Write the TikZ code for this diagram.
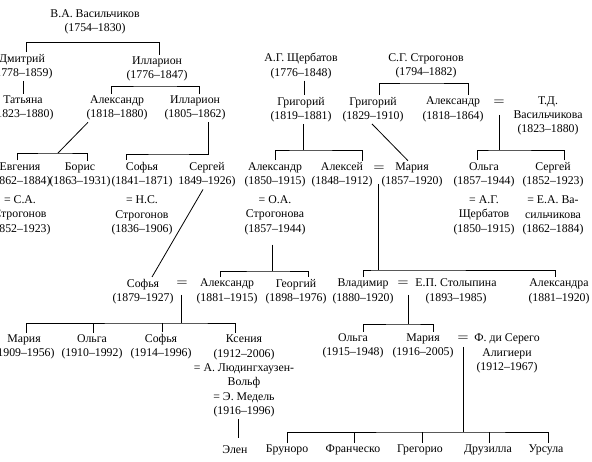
\documentclass[tikz,border=0pt]{standalone}
\usepackage{fontspec}
\setmainfont{Liberation Serif}
\begin{document}
\begin{tikzpicture}[x=1pt,y=-1pt,
  p/.style={align=center, inner sep=0pt, outer xsep=0pt, outer ysep=2pt,
    font=\fontsize{11.8}{14.3}\selectfont},
  eqs/.style={inner sep=0pt, font=\fontsize{11.8}{14.3}\selectfont},
  con/.style={line width=0.8pt}]
\useasboundingbox (0,0) rectangle (592,462);
% --- generation 1-2
\node[p] (vas) at (95,22) {В.А. Васильчиков\\(1754–1830)};
\node[p] (dmi) at (22,66.5) {Дмитрий\\(1778–1859)};
\node[p] (ill1) at (157,69) {Илларион\\(1776–1847)};
\node[p] (tat) at (23,108) {Татьяна\\(1823–1880)};
\node[p] (ale1) at (117,108) {Александр\\(1818–1880)};
\node[p] (ill2) at (195,108) {Илларион\\(1805–1862)};
\node[p] (shch) at (301,66) {А.Г. Щербатов\\(1776–1848)};
\node[p] (gri1) at (301,109.5) {Григорий\\(1819–1881)};
\node[p] (str) at (426,66) {С.Г. Строгонов\\(1794–1882)};
\node[p] (gri2) at (373,109.5) {Григорий\\(1829–1910)};
\node[p] (ale2) at (453,109.5) {Александр\\(1818–1864)};
\node[eqs] (eq1) at (499,103) {\scalebox{1.7}[1]{=}};
\node[p] (tdv) at (548,116) {Т.Д.\\Васильчикова\\(1823–1880)};
% --- generation 3
\node[p] (evg) at (20,198.5) {Евгения\\(1862–1884)\\[5pt]= С.А.\\Строгонов\\(1852–1923)};
\node[p] (bor) at (80,175) {Борис\\(1863–1931)};
\node[p] (sof1) at (142,198.5) {Софья\\(1841–1871)\\[5pt]= Н.С.\\Строгонов\\(1836–1906)};
\node[p] (ser1) at (207,175) {Сергей\\1849–1926)};
\node[p] (ale3) at (275,198.5) {Александр\\(1850–1915)\\[5pt]= О.А.\\Строгонова\\(1857–1944)};
\node[p] (alx) at (342,175) {Алексей\\(1848–1912)};
\node[eqs] (eq2) at (379,169) {\scalebox{1.7}[1]{=}};
\node[p] (mar1) at (412,175) {Мария\\(1857–1920)};
\node[p] (olg1) at (484,198.5) {Ольга\\(1857–1944)\\[5pt]= А.Г.\\Щербатов\\(1850–1915)};
\node[p] (ser2) at (553,198.5) {Сергей\\(1852–1923)\\[5pt]= Е.А. Ва-\\сильчикова\\(1862–1884)};
% --- generation 4
\node[p] (sof2) at (143,291.5) {Софья\\(1879–1927)};
\node[eqs] (eq3) at (182,284) {\scalebox{1.7}[1]{=}};
\node[p] (ale4) at (227,291.5) {Александр\\(1881–1915)};
\node[p] (geo) at (296,291.5) {Георгий\\(1898–1976)};
\node[p] (vla) at (363,291.5) {Владимир\\(1880–1920)};
\node[eqs] (eq4) at (403,284) {\scalebox{1.7}[1]{=}};
\node[p] (stol) at (456,291.5) {Е.П. Столыпина\\(1893–1985)};
\node[p] (alxa) at (559,291.5) {Александра\\(1881–1920)};
% --- generation 5
\node[p] (mar2) at (24,347) {Мария\\(1909–1956)};
\node[p] (olg2) at (92,347) {Ольга\\(1910–1992)};
\node[p] (sof3) at (161,347) {Софья\\(1914–1996)};
\node[p] (kse) at (244,376) {Ксения\\(1912–2006)\\= А. Людингхаузен-\\Вольф\\= Э. Медель\\(1916–1996)};
\node[p] (olg3) at (353,346) {Ольга\\(1915–1948)};
\node[p] (mar3) at (423,346) {Мария\\(1916–2005)};
\node[eqs] (eq5) at (463,339) {\scalebox{1.7}[1]{=}};
\node[p] (fdi) at (507,353.5) {Ф. ди Серего\\Алигиери\\(1912–1967)};
% --- generation 6
\node[p] (elen) at (235,450) {Элен};
\node[p] (brun) at (287,450) {Бруноро};
\node[p] (fran) at (353,450) {Франческо};
\node[p] (greg) at (420,450) {Грегорио};
\node[p] (dru) at (488,450) {Друзилла};
\node[p] (urs) at (546,450) {Урсула};
% --- bar coordinates
\coordinate (b1) at (95,42.7);
\coordinate (b3) at (155,86);
\coordinate (b5) at (420,83);
\coordinate (b6) at (58,153);
\coordinate (b7) at (170,154);
\coordinate (b9) at (303,150);
\coordinate (b11) at (499,150);
\coordinate (b12) at (378,270);
\coordinate (b13) at (272,271);
\coordinate (b14) at (181,323);
\coordinate (b15) at (408,324);
\coordinate (b16) at (463,432);
% --- connectors
\begin{scope}[con]
\draw ([xshift=4pt]dmi.north) |- (b1) -| ([xshift=2pt]ill1.north);
\draw ([xshift=1pt]dmi.south) -- ([xshift=0pt]tat.north);
\draw ([xshift=-6pt]ale1.north) |- (b3) -| ([xshift=4pt]ill2.north);
\draw ([xshift=3pt]shch.south) -- ([xshift=3pt]gri1.north);
\draw ([xshift=6pt]gri2.north) |- (b5) -| ([xshift=15pt]ale2.north);
\draw ([xshift=-29pt]ale1.south) -- (b6);
\draw ([xshift=-3pt]evg.north) |- (b6) -| ([xshift=7pt]bor.north);
\draw ([xshift=13pt]ill2.south) |- (b7) -| ([xshift=-16pt]sof1.north);
\draw ([xshift=-4pt]ser1.south) -- ([xshift=9pt]sof2.north);
\draw ([xshift=2pt]gri1.south) -- (b9);
\draw (ale3.north) |- (b9) -| ([xshift=20pt]alx.north);
\draw ([xshift=-1pt]gri2.south) -- ([xshift=-4pt]mar1.north);
\draw ([yshift=-12pt]eq1.center) -- (b11);
\draw ([xshift=-7pt]olg1.north) |- (b11) -| ([xshift=11pt]ser2.north);
\draw ([xshift=-1pt,yshift=-15pt]eq2.center) -- (b12);
\draw (vla.north) |- (b12) -| ([xshift=-4pt]alxa.north);
\draw ([xshift=-3pt,yshift=-8pt]ale3.south) -- (b13);
\draw ([xshift=-7pt]ale4.north) |- (b13) -| ([xshift=12pt]geo.north);
\draw ([xshift=-1pt,yshift=-11pt]eq3.center) -- (b14);
\draw ([xshift=2pt]mar2.north) |- (b14) -| ([xshift=-9pt]kse.north);
\draw ([xshift=1pt]olg2.north) -- ([xshift=1pt]olg2.north |- b14);
\draw ([xshift=1pt]sof3.north) -- ([xshift=1pt]sof3.north |- b14);
\draw ([xshift=5pt,yshift=-11pt]eq4.center) -- (b15);
\draw ([xshift=10pt]olg3.north) |- (b15) -| ([xshift=10pt]mar3.north);
\draw ([yshift=-8pt]eq5.center) -- (b16);
\draw (brun.north) |- (b16) -| ([xshift=2pt]urs.north);
\draw ([xshift=1pt]fran.north) -- ([xshift=1pt]fran.north |- b16);
\draw ([xshift=2pt]greg.north) -- ([xshift=2pt]greg.north |- b16);
\draw ([xshift=1pt]dru.north) -- ([xshift=1pt]dru.north |- b16);
\draw[shorten >=6pt] ([xshift=-6pt]kse.south) -- ([xshift=3pt]elen.north);
\end{scope}
\end{tikzpicture}
\end{document}
